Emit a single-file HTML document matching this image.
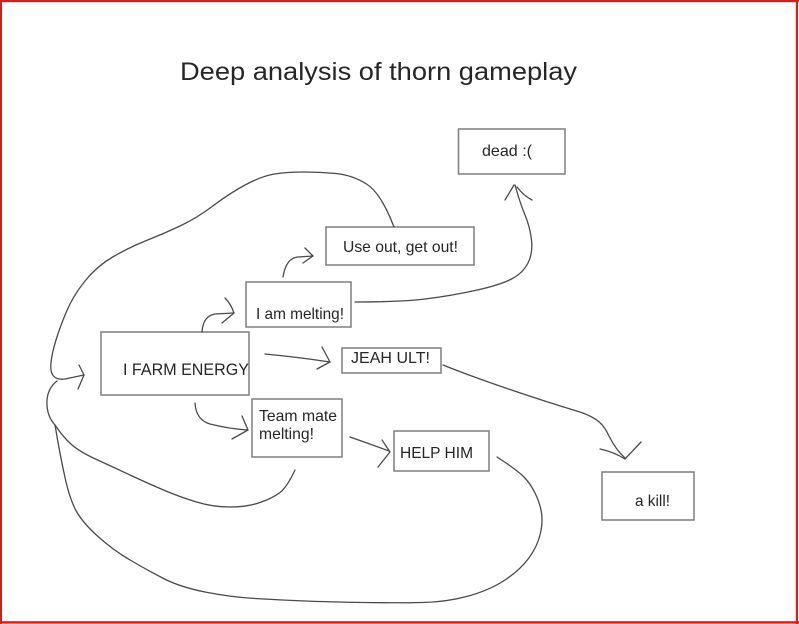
<!DOCTYPE html>
<html>
<head>
<meta charset="utf-8">
<style>
  html, body { margin: 0; padding: 0; background: #fff; }
  body { width: 799px; height: 624px; overflow: hidden; }
  svg { display: block; }
  text { font-family: "Liberation Sans", Arial, sans-serif; fill: #262626; }
</style>
</head>
<body>
<svg width="799" height="624" viewBox="0 0 799 624" xmlns="http://www.w3.org/2000/svg">
  <rect x="0" y="0" width="799" height="624" fill="#ffffff"/>
  <!-- red frame -->
  <rect x="0" y="0" width="799" height="2.2" fill="#dd1a1a"/>
  <rect x="0" y="0" width="2" height="624" fill="#dd1a1a"/>
  <rect x="795.8" y="0" width="2.2" height="624" fill="#dd1a1a"/>
  <rect x="0" y="621.2" width="799" height="2.4" fill="#dd1a1a"/>

  <!-- title -->
  <text x="180" y="80" font-size="25" textLength="397" lengthAdjust="spacingAndGlyphs" fill="#1a1a1a">Deep analysis of thorn gameplay</text>

  <!-- boxes -->
  <g fill="none" stroke="#858585" stroke-width="1.6">
    <rect x="101" y="332" width="148" height="63"/>
    <rect x="246" y="282" width="105" height="45"/>
    <rect x="326" y="227" width="148" height="38"/>
    <rect x="458.5" y="129" width="106.5" height="45"/>
    <rect x="342" y="348" width="99" height="25"/>
    <rect x="252" y="399" width="90" height="58"/>
    <rect x="394" y="431" width="95" height="40"/>
    <rect x="602" y="472" width="92" height="48"/>
  </g>

  <!-- box labels -->
  <text x="123" y="375" font-size="17" textLength="126" lengthAdjust="spacingAndGlyphs">I FARM ENERGY</text>
  <text x="256" y="319" font-size="16" textLength="88" lengthAdjust="spacingAndGlyphs">I am melting!</text>
  <text x="343" y="252" font-size="16" textLength="115" lengthAdjust="spacingAndGlyphs">Use out, get out!</text>
  <text x="482" y="156" font-size="16" textLength="50" lengthAdjust="spacingAndGlyphs">dead :(</text>
  <text x="351" y="363" font-size="16" textLength="79" lengthAdjust="spacingAndGlyphs">JEAH ULT!</text>
  <text x="259" y="421" font-size="16" textLength="78" lengthAdjust="spacingAndGlyphs">Team mate</text>
  <text x="259" y="439" font-size="16" textLength="55" lengthAdjust="spacingAndGlyphs">melting!</text>
  <text x="400" y="458" font-size="16" textLength="73" lengthAdjust="spacingAndGlyphs">HELP HIM</text>
  <text x="635" y="506" font-size="16" textLength="35" lengthAdjust="spacingAndGlyphs">a kill!</text>

  <!-- connectors -->
  <g fill="none" stroke="#4a4a4a" stroke-width="1.3" stroke-linecap="round" stroke-linejoin="round">
    <!-- big top loop from Use out box back to left -->
    <path d="M394,227 Q381,193 366.5,184 Q352,175 336,173.5 Q320,172 303.5,172 Q287,172 274.5,174 Q262,176 246,184.5 Q230,193 213.5,205.5 Q197,218 180,226 Q163,234 146.5,240.5 Q130,247 113.5,256.5 Q97,266 85,281 Q73,296 66.5,311.5 Q60,327 56,340 Q52,353 51,362.5 Q50,372 53.5,376 Q57,380 65,379 L84,375"/>
    <path d="M79,365 L84,375 L78,389"/>
    <!-- junction down -->
    <path d="M57,381 Q48,388 47,400 Q46,415 55,425"/>
    <!-- branch a: to below team mate -->
    <path d="M55,425 Q63,437 71.5,444.5 Q80,452 96.5,459.5 Q113,467 130,475 Q147,483 163.5,490 Q180,497 196.5,502 Q213,507 230,507 Q247,507 260,502.5 Q273,498 280,492.5 Q287,487 295,470"/>
    <!-- branch b: big bottom loop to HELP HIM -->
    <path d="M55,425 Q60,455 65,477.5 Q70,500 76.5,511.5 Q83,523 98,536.5 Q113,550 130,560 Q147,570 163.5,578.5 Q180,587 205,592 Q230,597 255,598.5 Q280,600 305,601 Q330,602 363.5,602.5 Q397,603 422,602.5 Q447,602 468.5,596 Q490,590 505,580 Q520,570 528.5,558.5 Q537,547 540,535 Q543,523 541.5,513 Q540,503 535,493 Q530,483 523.5,476.5 Q517,470 497,457"/>

    <!-- FARM -> I am melting -->
    <path d="M202,332 Q203,316 215,314 L234,313"/>
    <path d="M225,298 Q231,304 234,313 L222,323"/>

    <!-- I am melting -> Use out -->
    <path d="M283,277 Q286,258 298,257 L313,256"/>
    <path d="M305,248 L313,256 L303,263"/>

    <!-- I am melting -> dead -->
    <path d="M355,302 Q400,302 425,299 Q450,296 475,290.5 Q500,285 511.5,279 Q523,273 528,263 Q533,253 531.5,240 Q530,227 525,215 Q520,203 515,185"/>
    <path d="M505,200 L514,185 M517,187 Q524,196 532,200"/>

    <!-- FARM -> JEAH ULT -->
    <path d="M265,354 Q297,357 330,362"/>
    <path d="M322,347 L330,362 L317,369"/>

    <!-- JEAH ULT -> a kill -->
    <path d="M443,365 C480,380 540,400 580,412 C598,418 604,425 609,436 Q616,450 625,458"/>
    <path d="M600,449 Q614,452 625,459 L641,442"/>

    <!-- FARM -> Team mate -->
    <path d="M195,403 Q196,420 210,424 Q230,429 248,430"/>
    <path d="M242,416 L248,430 L232,439"/>

    <!-- Team mate -> HELP HIM -->
    <path d="M350,437 Q370,444 389,451"/>
    <path d="M382,440 L390,452 L378,467"/>
  </g>
</svg>
</body>
</html>
